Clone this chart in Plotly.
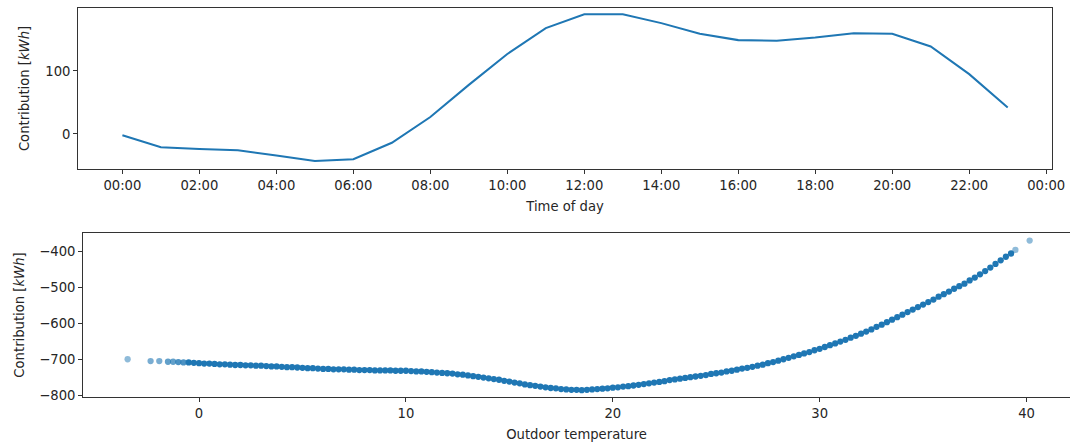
import plotly.graph_objects as go

# ---- Top panel: contribution by time of day ----
hours = list(range(24))
hour_contrib = [-2, -21, -24, -26, -34, -43, -40, -14, 27, 78, 127, 168, 190, 190,
                176, 159, 149, 148, 153, 160, 159, 139, 95, 42]
time_tickvals = list(range(0, 25, 2))
time_ticktext = ["00:00", "02:00", "04:00", "06:00", "08:00", "10:00", "12:00",
                 "14:00", "16:00", "18:00", "20:00", "22:00", "00:00"]

# ---- Bottom panel: contribution vs outdoor temperature ----
temp = [-3.45, -2.34, -1.92,
        -1.5, -1.25, -1.0, -0.75, -0.5, -0.25, 0.0, 0.25, 0.5, 0.75, 1.0, 1.25, 1.5, 1.75,
        2.0, 2.25, 2.5, 2.75, 3.0, 3.25, 3.5, 3.75, 4.0, 4.25, 4.5, 4.75, 5.0, 5.25, 5.5, 5.75,
        6.0, 6.25, 6.5, 6.75, 7.0, 7.25, 7.5, 7.75, 8.0, 8.25, 8.5, 8.75, 9.0, 9.25, 9.5, 9.75,
        10.0, 10.25, 10.5, 10.75, 11.0, 11.25, 11.5, 11.75, 12.0, 12.25, 12.5, 12.75,
        13.0, 13.25, 13.5, 13.75, 14.0, 14.25, 14.5, 14.75, 15.0, 15.25, 15.5, 15.75,
        16.0, 16.25, 16.5, 16.75, 17.0, 17.25, 17.5, 17.75, 18.0, 18.25, 18.5, 18.75,
        19.0, 19.25, 19.5, 19.75, 20.0, 20.25, 20.5, 20.75, 21.0, 21.25, 21.5, 21.75,
        22.0, 22.25, 22.5, 22.75, 23.0, 23.25, 23.5, 23.75, 24.0, 24.25, 24.5, 24.75,
        25.0, 25.25, 25.5, 25.75, 26.0, 26.25, 26.5, 26.75, 27.0, 27.25, 27.5, 27.75,
        28.0, 28.25, 28.5, 28.75, 29.0, 29.25, 29.5, 29.75, 30.0, 30.25, 30.5, 30.75,
        31.0, 31.25, 31.5, 31.75, 32.0, 32.25, 32.5, 32.75, 33.0, 33.25, 33.5, 33.75,
        34.0, 34.25, 34.5, 34.75, 35.0, 35.25, 35.5, 35.75, 36.0, 36.25, 36.5, 36.75,
        37.0, 37.25, 37.5, 37.75, 38.0, 38.25, 38.5, 38.75, 39.0, 39.25,
        39.46, 40.15]
temp_contrib = [-699, -704, -704,
                -706, -706, -707, -708, -708, -709, -710, -711, -711, -712, -713, -713, -714, -715,
                -715, -716, -716, -717, -717, -718, -719, -719, -720, -721, -721, -722, -723, -724, -724, -725,
                -726, -726, -727, -727, -727, -728, -728, -729, -729, -729, -730, -730, -730, -730, -731, -731,
                -731, -732, -733, -733, -734, -735, -736, -737, -738, -739, -741, -742,
                -744, -746, -748, -750, -752, -754, -756, -759, -761, -764, -766, -769,
                -771, -773, -775, -777, -779, -780, -782, -783, -784, -784, -785, -784,
                -783, -782, -781, -780, -778, -777, -775, -774, -772, -770, -768, -766,
                -764, -762, -760, -757, -755, -753, -751, -749, -747, -745, -743, -740,
                -738, -736, -733, -731, -728, -725, -723, -720, -717, -714, -710, -707,
                -703, -699, -695, -691, -687, -683, -679, -674, -670, -665, -660, -655,
                -650, -645, -639, -634, -628, -622, -616, -609, -603, -596, -589, -582,
                -575, -568, -561, -554, -547, -540, -533, -525, -518, -511, -503, -496,
                -489, -480, -472, -463, -454, -444, -434, -424, -414, -405,
                -395, -369]

BLUE = "#1f77b4"
AX = "#333333"
TXT = "#262626"
FONT = "DejaVu Sans"
RW, RH = 1070, 445          # reference picture size (layout measured in it)
K = 1085 / 1070             # page is photographed slightly reduced; compensate
W, H = round(RW * K), round(RH * K)

n_pts = len(temp)
point_opacity = ([0.5, 0.6, 0.6] + [0.7, 0.7, 0.8, 0.8] + [1.0] * (n_pts - 9)
                 + [0.5, 0.5])

fig = go.Figure()
fig.add_trace(go.Scatter(x=hours, y=hour_contrib, mode="lines",
                         line=dict(color=BLUE, width=2 * K), xaxis="x", yaxis="y",
                         showlegend=False))
fig.add_trace(go.Scatter(x=temp, y=temp_contrib, mode="markers",
                         marker=dict(color=BLUE, size=6.2 * K, opacity=point_opacity,
                                     line=dict(width=0)),
                         xaxis="x2", yaxis="y2", showlegend=False))

FS = 13 * K
axis_common = dict(showline=True, linecolor=AX, linewidth=1, mirror=True,
                   ticks="outside", ticklen=4 * K, tickcolor=AX, tickwidth=1,
                   showgrid=False, zeroline=False,
                   tickfont=dict(family=FONT, size=FS, color=TXT))
title_font = dict(family=FONT, size=FS, color=TXT)

fig.update_layout(
    width=W, height=H, autosize=False,
    margin=dict(l=0, r=0, t=0, b=0),
    paper_bgcolor="white", plot_bgcolor="white",
    font=dict(family=FONT, size=FS, color=TXT),
    xaxis=dict(domain=[78 / RW, 1050 / RW], anchor="y", range=[-1.15, 24.15],
               tickvals=time_tickvals, ticktext=time_ticktext,
               title=dict(text="Time of day", standoff=9 * K, font=title_font),
               **axis_common),
    yaxis=dict(domain=[1 - 169 / RH, 1 - 8 / RH], anchor="x", range=[-55.6, 200],
               tickvals=[0, 100],
               title=dict(text="Contribution [<i>kWh</i>]", standoff=12 * K, font=title_font),
               **axis_common),
    xaxis2=dict(domain=[83 / RW, 1068 / RW], anchor="y2", range=[-5.6, 42.1],
                tickvals=[0, 10, 20, 30, 40],
                title=dict(text="Outdoor temperature", standoff=9 * K, font=title_font),
                **axis_common),
    yaxis2=dict(domain=[1 - 397 / RH, 1 - 233 / RH], anchor="x2", range=[-804, -348],
                tickvals=[-800, -700, -600, -500, -400],
                title=dict(text="Contribution [<i>kWh</i>]", standoff=11 * K, font=title_font),
                **axis_common),
)

fig.write_html(
    "out.html",
    config={"responsive": False, "displayModeBar": False},
    post_script="document.documentElement.style.margin='0';"
                "document.documentElement.style.overflow='hidden';"
                "document.body.style.margin='0';"
                "document.body.style.overflow='hidden';",
)
